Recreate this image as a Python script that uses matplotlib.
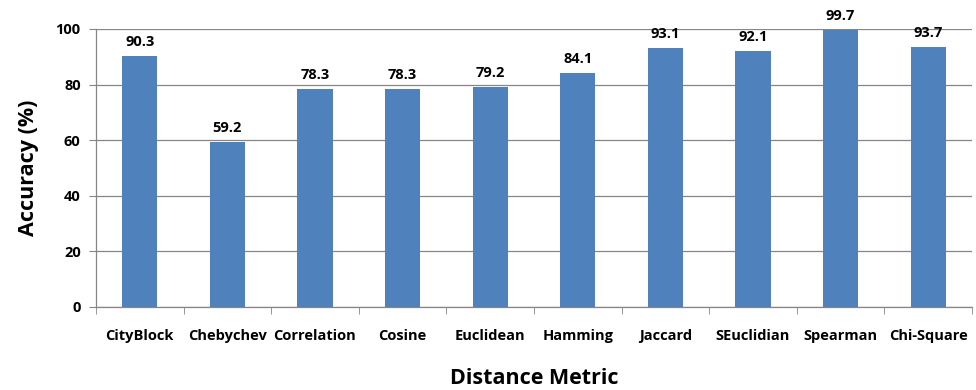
import matplotlib
matplotlib.use("Agg")
import matplotlib.pyplot as plt
import numpy as np

metrics = ["CityBlock", "Chebychev", "Correlation", "Cosine", "Euclidean",
           "Hamming", "Jaccard", "SEuclidian", "Spearman", "Chi-Square"]
accuracy = [90.3, 59.2, 78.3, 78.3, 79.2, 84.1, 93.1, 92.1, 99.7, 93.7]
y_ticks = [0, 20, 40, 60, 80, 100]

plt.rcParams["font.family"] = ["Open Sans", "DejaVu Sans"]

fig = plt.figure(figsize=(9.76, 3.9), dpi=100)
ax = fig.add_axes([96 / 976, 1 - 307 / 390, 876 / 976, 278 / 390])

x = np.arange(len(metrics))
bar_color = "#4F81BD"
ax.bar(x, accuracy, width=0.4, color=bar_color, zorder=3)

for xi, v in zip(x, accuracy):
    ax.text(xi, v + 2.5, f"{v:.1f}", ha="center", va="bottom",
            fontsize=10.5, fontweight="bold", color="black", zorder=4)

ax.set_xlim(-0.5, len(metrics) - 0.5)
ax.set_ylim(0, 100)
ax.set_yticks(y_ticks)
ax.set_yticklabels([str(t) for t in y_ticks], fontsize=10.5, fontweight="bold")

# category labels centred under bars, tick marks at category boundaries
ax.set_xticks(x)
ax.set_xticklabels(metrics, fontsize=10.5, fontweight="bold")
ax.tick_params(axis="x", which="major", length=0, pad=16)
ax.set_xticks(np.arange(-0.5, len(metrics) + 0.5, 1), minor=True)
ax.tick_params(axis="x", which="minor", length=5, color="#868686", direction="out")
ax.tick_params(axis="y", length=5, color="#868686", direction="out", pad=6)

ax.grid(axis="y", color="#868686", linewidth=0.9, zorder=0)
for side in ("top", "right"):
    ax.spines[side].set_visible(False)
for side in ("left", "bottom"):
    ax.spines[side].set_color("#868686")
    ax.spines[side].set_linewidth(0.9)

ax.set_ylabel("Accuracy (%)", fontsize=15.5, fontweight="bold", labelpad=12)
ax.set_xlabel("Distance Metric", fontsize=15.5, fontweight="bold", labelpad=18)

fig.savefig("out.png", dpi=100)
